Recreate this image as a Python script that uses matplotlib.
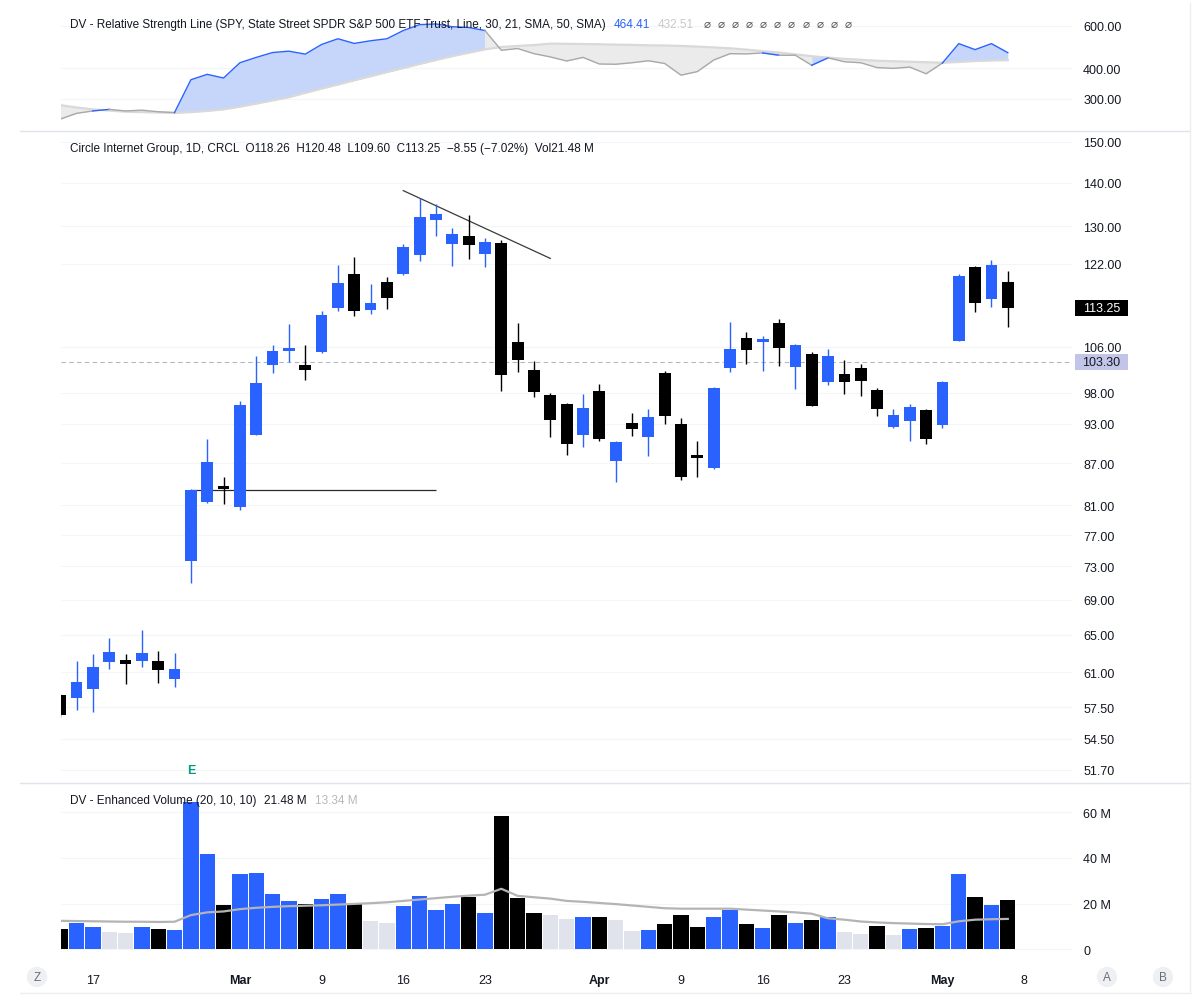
import matplotlib.pyplot as plt
import numpy as np
from matplotlib.lines import Line2D
from matplotlib.patches import Rectangle
from matplotlib.ticker import FixedLocator, NullLocator

plt.rcParams["font.family"] = ["Liberation Sans", "DejaVu Sans"]

# daily bars, index 0 = Feb 12 ... 58 = May 7
opens = [58.7, 58.4, 59.3, 62.1, 62.3, 62.2, 62.2, 60.3, 73.7, 81.5,
         83.5, 80.8, 91.3, 102.8, 105.2, 102.8, 105.0, 113.2, 119.8, 112.8,
         118.2, 119.9, 123.9, 131.4, 126.2, 127.9, 124.0, 126.3, 106.8, 101.9,
         97.7, 96.2, 91.2, 98.3, 87.3, 93.1, 90.9, 101.3, 93.0, 88.0,
         86.3, 102.2, 107.5, 106.8, 110.3, 102.4, 104.6, 99.9, 101.2, 102.2,
         98.5, 92.5, 93.5, 95.2, 92.8, 107.1, 121.4, 114.9, 118.26]
highs = [58.8, 62.2, 62.9, 64.7, 62.9, 65.5, 63.2, 63.0, 83.3, 90.6,
         85.0, 96.6, 104.3, 106.3, 110.1, 106.3, 112.6, 121.8, 123.4, 117.8,
         119.2, 126.2, 136.4, 134.9, 129.6, 132.5, 127.4, 127.0, 110.3, 103.4,
         97.9, 96.3, 97.8, 99.5, 90.3, 94.7, 95.3, 101.7, 93.9, 90.3,
         98.9, 110.5, 108.6, 108.0, 111.1, 106.5, 105.0, 105.6, 103.6, 103.0,
         98.8, 95.3, 96.1, 95.3, 100.0, 119.9, 121.5, 122.8, 120.48]
lows = [56.6, 57.2, 57.0, 61.3, 59.8, 61.6, 59.9, 59.5, 71.0, 81.3,
        81.1, 80.3, 91.2, 101.4, 103.2, 100.1, 104.9, 112.6, 111.7, 112.0,
        113.0, 119.7, 122.6, 127.9, 121.5, 123.0, 121.3, 98.3, 101.6, 97.3,
        90.9, 88.2, 89.4, 90.3, 84.3, 91.1, 88.0, 93.0, 84.6, 85.0,
        86.2, 101.5, 102.9, 101.7, 102.6, 98.6, 95.8, 99.4, 97.8, 97.5,
        94.3, 92.4, 90.3, 89.9, 92.3, 107.0, 112.5, 113.3, 109.60]
closes = [56.7, 60.0, 61.6, 63.1, 61.9, 63.0, 61.2, 61.3, 83.1, 87.2,
          83.3, 96.0, 99.7, 105.2, 105.7, 101.8, 111.9, 118.0, 112.6, 114.1,
          115.2, 125.6, 132.1, 132.8, 128.2, 125.9, 126.6, 101.1, 103.7, 98.2,
          93.6, 89.8, 95.5, 90.6, 90.2, 92.2, 94.1, 94.3, 85.0, 87.8,
          98.8, 105.5, 105.4, 107.4, 105.8, 106.3, 95.9, 104.3, 99.9, 100.0,
          95.3, 94.4, 95.6, 90.7, 99.8, 119.4, 114.1, 121.8, 113.25]

# volume in millions
volumes = [8.8, 11.7, 10.0, 7.7, 7.1, 9.7, 9.1, 8.4, 64.2, 41.7,
           19.6, 33.0, 33.6, 24.3, 21.3, 19.7, 21.9, 24.3, 20.0, 12.6,
           11.7, 19.0, 23.2, 17.2, 19.7, 23.0, 16.1, 58.1, 22.5, 16.1,
           14.9, 13.2, 14.1, 14.1, 12.8, 8.0, 8.4, 10.9, 15.2, 9.7,
           14.2, 17.4, 10.9, 9.4, 14.9, 11.7, 12.9, 14.1, 7.7, 6.8,
           10.1, 6.5, 8.8, 9.4, 10.4, 32.8, 23.0, 19.4, 21.48]
vol_ma = [12.5, 12.4, 12.3, 12.2, 12.1, 12.1, 12.0, 12.1, 15.0, 16.2,
          16.6, 17.6, 18.2, 18.6, 18.9, 19.1, 19.3, 19.6, 19.9, 20.2,
          20.6, 21.2, 21.8, 22.4, 23.0, 23.5, 23.9, 26.5, 23.4, 22.8,
          22.2, 21.2, 20.8, 20.3, 19.8, 19.2, 18.6, 18.0, 17.8, 17.8,
          17.8, 17.8, 17.4, 17.0, 16.6, 16.2, 15.6, 13.6, 13.0, 12.2,
          11.8, 11.5, 11.3, 11.1, 11.0, 12.3, 13.0, 13.2, 13.34]
vol_dim = [3, 4, 19, 20, 30, 31, 34, 35, 48, 49, 51]

# relative strength line vs SPY and its moving average
rs_line = [247, 261, 267, 271, 267, 269, 265, 263, 359, 378,
           365, 422, 444, 465, 471, 458, 502, 530, 507, 520,
           530, 573, 606, 610, 594, 590, 573, 475, 483, 460,
           446, 429, 444, 417, 416, 422, 430, 419, 375, 388,
           433, 460, 459, 463, 453, 453, 412, 442, 426, 422,
           403, 400, 405, 380, 421, 506, 478, 506, 464.41]
rs_ma = [282, 276, 271, 268, 265, 264, 263, 262, 264, 267,
         271, 278, 286, 295, 304, 317, 330, 343, 357, 371,
         386, 401, 417, 433, 449, 464, 479, 490, 495, 499,
         506, 505, 504, 503, 501, 500, 498, 497, 495, 492,
         488, 484, 478, 471, 465, 457, 449, 443, 438, 434,
         430, 428, 426, 424, 422, 425, 429, 431, 432.51]
rs_blue_runs = [(2, 3), (7, 26), (43, 44), (46, 47), (54, 58)]

price_ticks = [51.7, 54.5, 57.5, 61, 65, 69, 73, 77, 81, 87, 93, 98,
               106, 122, 130, 140, 150]
rs_ticks = [300, 400, 600]
vol_ticks = [0, 20, 40, 60]
vol_tick_labels = ["0", "20 M", "40 M", "60 M"]
date_ticks = [2, 11, 16, 21, 26, 33, 38, 43, 48, 54, 59]
date_labels = ["17", "Mar", "9", "16", "23", "Apr", "9", "16", "23", "May", "8"]

BLUE = "#2962ff"
DIM = "#e0e3eb"
TXT = "#131722"
GRID = "#f4f5f7"
SEP = "#e0e3eb"
HEAD = 8.5

W, H = 1200, 1003
fig = plt.figure(figsize=(W / 100, H / 100), dpi=100)


def place(left, top, right, bottom):
    return fig.add_axes([left / W, 1 - bottom / H, (right - left) / W, (bottom - top) / H])


ax_rs = place(61, 10, 1072, 131)
ax = place(61, 132, 1072, 783)
ax_v = place(61, 784, 1072, 958)

x = np.arange(len(closes))
o, h, l, c = (np.asarray(a, dtype=float) for a in (opens, highs, lows, closes))
up = c >= o
col = np.where(up, BLUE, "black")

for a in (ax_rs, ax, ax_v):
    a.set_xlim(0.05, 61.93)
    for s in a.spines.values():
        s.set_visible(False)
    a.yaxis.tick_right()
    a.tick_params(axis="y", length=0, pad=8, labelsize=9, labelcolor=TXT)
    a.tick_params(axis="x", length=0)
    a.set_xticks([])
    a.grid(axis="y", color=GRID, lw=0.8, zorder=0)
    a.set_axisbelow(True)

# relative strength panel
ax_rs.set_yscale("log")
ax_rs.set_ylim(222.8, 703)
ax_rs.yaxis.set_major_locator(FixedLocator(rs_ticks))
ax_rs.yaxis.set_minor_locator(NullLocator())
ax_rs.set_yticklabels([f"{v:.2f}" for v in rs_ticks])

seg_blue = [any(a <= k < b for a, b in rs_blue_runs) for k in range(len(rs_line) - 1)]
start = 0
for k in range(1, len(seg_blue) + 1):
    if k == len(seg_blue) or seg_blue[k] != seg_blue[start]:
        blue = seg_blue[start]
        sl = slice(start, k + 1)
        ax_rs.fill_between(x[sl], rs_line[sl], rs_ma[sl],
                           color="#c6d6fa" if blue else "#ebebeb", lw=0, zorder=1)
        ax_rs.plot(x[sl], rs_line[sl], color=BLUE if blue else "#a8a8a8",
                   lw=1, zorder=3)
        start = k
ax_rs.plot(x, rs_ma, color="#d9d9d9", lw=1.6, zorder=2)

# price panel
ax.set_yscale("log")
ax.set_ylim(50.65, 152.8)
ax.yaxis.set_major_locator(FixedLocator(price_ticks))
ax.yaxis.set_minor_locator(NullLocator())
ax.set_yticklabels([f"{v:.2f}" for v in price_ticks])

ax.vlines(x, l, h, colors=col, lw=1, zorder=3)
body_lo = np.minimum(o, c)
body_hi = np.maximum(o, c)
ax.bar(x, np.maximum(body_hi - body_lo, body_lo * 0.004), bottom=body_lo,
       width=0.72, color=col, lw=0, zorder=4)

ax.hlines(closes[8], 8, 23, color="#2a2a2a", lw=0.9, zorder=2)
ax.plot([21, 30], [138.1, 123.1], color="#3a3a3a", lw=0.9, zorder=2)
ax.axhline(103.3, color="#b4b7c3", ls=(0, (4, 3)), lw=0.8, zorder=1)
ax.text(8, 51.7, "E", color="#089981", fontsize=9, fontweight="bold",
        ha="center", va="center")

# volume panel
ax_v.set_ylim(-3.3, 72.7)
ax_v.set_yticks(vol_ticks)
ax_v.set_yticklabels(vol_tick_labels)
vcol = [DIM if i in vol_dim else ("black" if not up[i] else BLUE) for i in x]
ax_v.bar(x, volumes, width=0.94, color=vcol, lw=0, zorder=2)
ax_v.plot(x, vol_ma, color="#b4b4b4", lw=1.6, zorder=3)
ax_v.set_xticks(date_ticks)
ax_v.set_xticklabels(date_labels)
ax_v.tick_params(axis="x", pad=12, labelsize=9, labelcolor=TXT)
for t in ax_v.get_xticklabels():
    if t.get_text() in ("Mar", "Apr", "May"):
        t.set_fontweight("bold")

# current price / reference price boxes on the scale
for val, fc, tc in ((113.25, "black", "white"), (103.30, "#c2c5e8", TXT)):
    y = ax.transData.transform((0, val))[1]
    fig.patches.append(Rectangle((1075 / W, (y - 8) / H), 53 / W, 16 / H,
                                 transform=fig.transFigure, fc=fc, ec="none"))
    fig.text(1101.5 / W, y / H, f"{val:.2f}", ha="center", va="center",
             color=tc, fontsize=9)

# headers
renderer = fig.canvas.get_renderer()


def text_row(x_px, y_px, parts, size=HEAD):
    for s, color, gap in parts:
        t = fig.text(x_px / W, 1 - y_px / H, s, color=color, fontsize=size,
                     ha="left", va="center")
        x_px = t.get_window_extent(renderer=renderer).x1 + gap


text_row(70, 25, [("DV - Relative Strength Line (SPY, State Street SPDR S&P 500 ETF "
                   "Trust, Line, 30, 21, SMA, 50, SMA)", TXT, 8),
                  ("464.41", BLUE, 8), ("432.51", "#c9c9c9", 9)]
         + [("\u2300", "#555555", 7)] * 11)
text_row(70, 149, [("Circle Internet Group, 1D, CRCL  O118.26  H120.48  L109.60  "
                    "C113.25  \u22128.55 (\u22127.02%)  Vol21.48 M", TXT, 0)])
text_row(70, 801, [("DV - Enhanced Volume (20, 10, 10)", TXT, 8),
                   ("21.48 M", TXT, 8), ("13.34 M", "#b8b8b8", 0)])

# panel separators and frame
for yy in (131.5, 783.5):
    fig.add_artist(Line2D([20 / W, 1190 / W], [1 - yy / H] * 2, color=SEP, lw=1))
fig.add_artist(Line2D([20 / W, 1190 / W], [1 - 994 / H] * 2, color="#eceef2", lw=1))
fig.add_artist(Line2D([1190 / W] * 2, [1 - 994 / H, 1 - 4 / H], color="#eceef2", lw=1))

for bx, lab in ((37, "Z"), (1107, "A"), (1163, "B")):
    fig.text(bx / W, 1 - 978 / H, lab, ha="center", va="center", fontsize=8.5,
             color="#6a6d78",
             bbox=dict(boxstyle="circle,pad=0.35", fc="#eff0f3", ec="none"))

fig.savefig("out.png", dpi=100, facecolor="white")
